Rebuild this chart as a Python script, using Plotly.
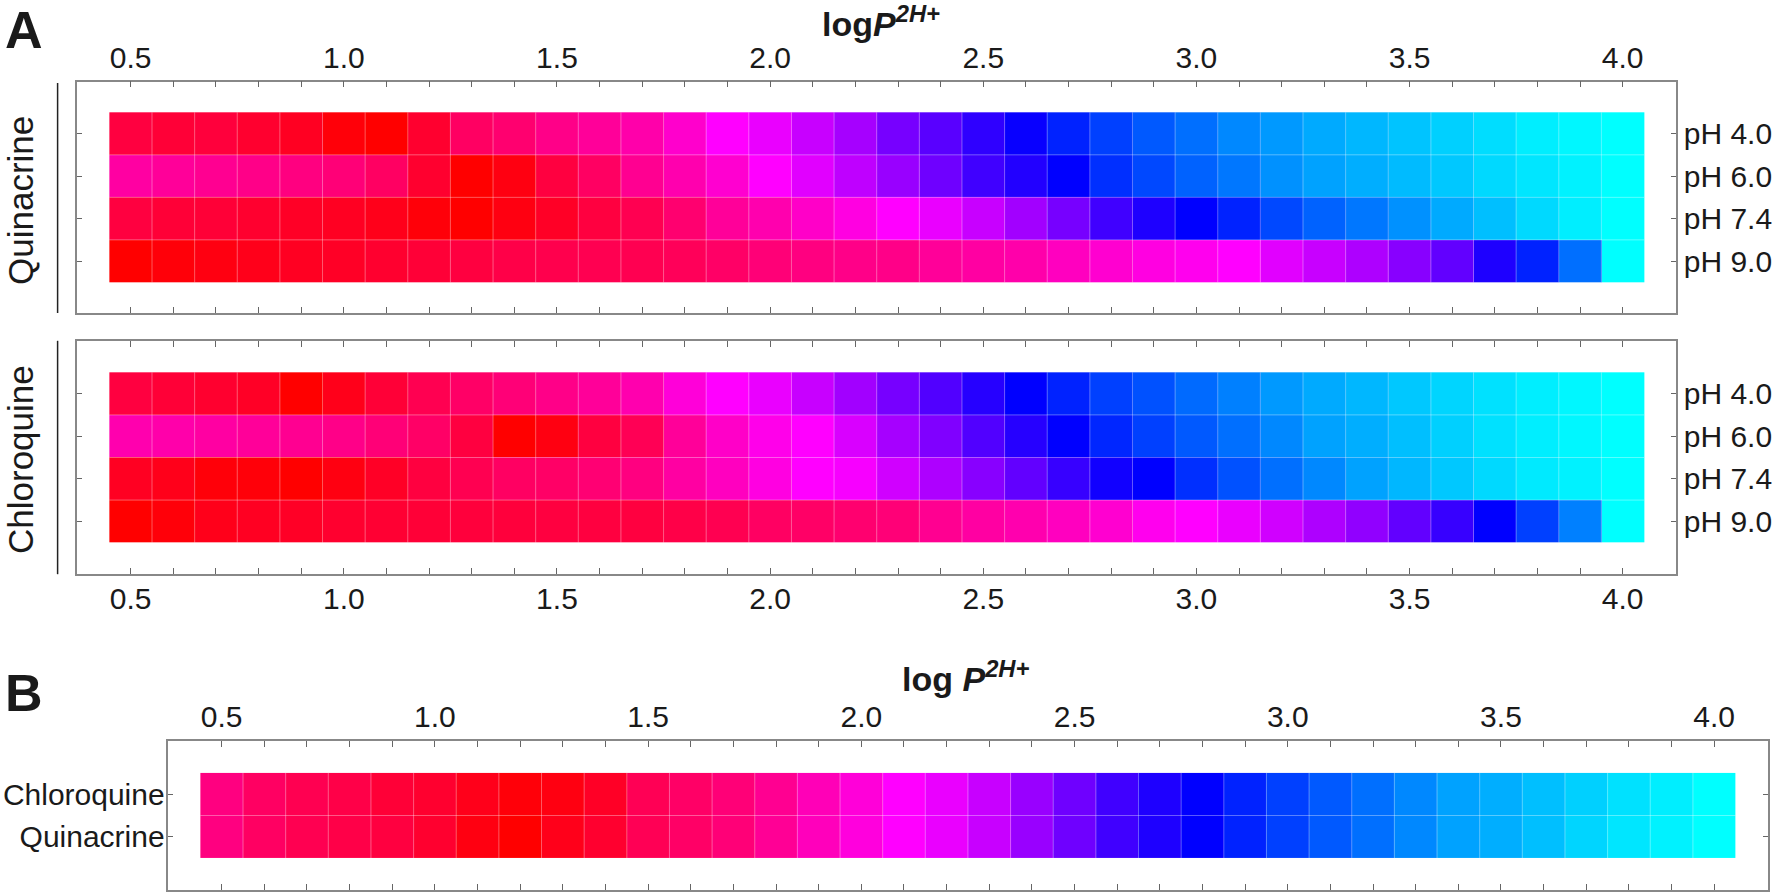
import plotly.graph_objects as go

# logP(2H+) bins
logp = [0.5, 0.6, 0.7, 0.8, 0.9, 1.0, 1.1, 1.2, 1.3, 1.4,
        1.5, 1.6, 1.7, 1.8, 1.9, 2.0, 2.1, 2.2, 2.3, 2.4,
        2.5, 2.6, 2.7, 2.8, 2.9, 3.0, 3.1, 3.2, 3.3, 3.4,
        3.5, 3.6, 3.7, 3.8, 3.9, 4.0]
ph_labels = ["pH 4.0", "pH 6.0", "pH 7.4", "pH 9.0"]
drug_labels = ["Chloroquine", "Quinacrine"]

# colour index (0 = red, 60 = magenta, 120 = blue, 180 = cyan)
quin_ph40 = [15, 13, 14, 11, 8, 2, 0, 11, 23, 26, 32, 36, 40, 48, 60, 65, 73, 81, 92, 99,
             109, 118, 128, 135, 141, 146, 152, 156, 160, 163, 166, 169, 172, 176, 178, 180]
quin_ph60 = [38, 36, 34, 32, 30, 28, 23, 11, 0, 4, 15, 23, 34, 41, 49, 60, 67, 75, 84, 94,
             105, 112, 120, 131, 137, 143, 148, 154, 158, 161, 164, 167, 171, 174, 177, 180]
quin_ph74 = [15, 13, 13, 11, 9, 8, 6, 2, 0, 4, 9, 15, 19, 26, 36, 41, 47, 53, 60, 65,
             73, 82, 92, 105, 113, 120, 128, 137, 143, 148, 154, 160, 165, 171, 176, 180]
quin_ph90 = [0, 2, 4, 6, 8, 9, 11, 13, 15, 17, 18, 19, 19, 21, 24, 28, 30, 32, 32, 36,
             38, 40, 45, 49, 53, 56, 60, 67, 73, 79, 88, 97, 113, 128, 146, 180]

chlo_ph40 = [15, 13, 11, 9, 0, 6, 13, 19, 24, 28, 32, 36, 41, 51, 60, 65, 73, 82, 92, 101,
             111, 120, 128, 135, 139, 145, 150, 156, 160, 163, 167, 170, 173, 176, 178, 180]
chlo_ph60 = [41, 40, 38, 36, 34, 32, 28, 24, 15, 0, 4, 15, 20, 36, 47, 55, 60, 69, 81, 90,
             101, 111, 120, 129, 135, 141, 146, 152, 158, 161, 165, 169, 173, 176, 178, 180]
chlo_ph74 = [8, 6, 2, 2, 0, 4, 9, 15, 19, 23, 24, 27, 30, 38, 45, 53, 60, 62, 71, 79,
             88, 97, 107, 116, 120, 131, 139, 146, 152, 158, 163, 167, 171, 175, 177, 180]
chlo_ph90 = [0, 2, 6, 8, 9, 11, 12, 13, 14, 14, 15, 15, 15, 17, 19, 23, 24, 26, 28, 34,
             38, 41, 45, 49, 56, 60, 65, 71, 79, 86, 97, 107, 120, 135, 150, 180]

b_chloroquine = [30, 23, 19, 17, 13, 11, 6, 2, 4, 9, 20, 24, 28, 34, 43, 51, 60, 65, 73, 84,
                 94, 105, 113, 120, 128, 135, 141, 146, 152, 158, 161, 165, 169, 173, 176, 180]
b_quinacrine = [30, 23, 19, 17, 15, 11, 4, 0, 6, 11, 20, 24, 28, 35, 44, 52, 60, 65, 73, 84,
                94, 105, 113, 120, 128, 135, 141, 146, 152, 158, 161, 165, 170, 174, 177, 180]

FONT = "Liberation Sans, Arial, Helvetica, sans-serif"
scale = [[0, "#ff0000"], [1 / 3, "#ff00ff"], [2 / 3, "#0000ff"], [1, "#00ffff"]]
ticktext = ["%.1f" % v if round(v * 10) % 5 == 0 else "" for v in logp]

panels = [
    ("x", "y", [quin_ph40, quin_ph60, quin_ph74, quin_ph90]),
    ("x2", "y2", [chlo_ph40, chlo_ph60, chlo_ph74, chlo_ph90]),
    ("x3", "y3", [b_chloroquine, b_quinacrine]),
]

fig = go.Figure()
shapes = []
for xa, ya, rows in panels:
    n = len(rows)
    fig.add_trace(go.Heatmap(
        x=logp, y=list(range(n)), z=rows, xaxis=xa, yaxis=ya,
        colorscale=scale, zmin=0, zmax=180, showscale=False, hoverongaps=False,
    ))
    # faint cell borders
    for k in range(1, len(logp)):
        xm = (logp[k - 1] + logp[k]) / 2
        shapes.append(dict(type="line", xref=xa, yref=ya, x0=xm, x1=xm, y0=-0.5, y1=n - 0.5,
                           line=dict(color="rgba(255,255,255,0.35)", width=1)))
    for r in range(1, n):
        shapes.append(dict(type="line", xref=xa, yref=ya, x0=logp[0] - 0.05, x1=logp[-1] + 0.05,
                           y0=r - 0.5, y1=r - 0.5,
                           line=dict(color="rgba(255,255,255,0.35)", width=1)))

W, H = 1772, 892


def xaxis(dom_px, side, anchor, standoff=0):
    return dict(domain=[dom_px[0] / W, dom_px[1] / W], range=[0.375, 4.125], side=side,
                anchor=anchor, tickvals=logp, ticktext=ticktext, ticks="inside", ticklen=6,
                tickwidth=1, tickcolor="#666", showline=True, linecolor="#888", linewidth=1.5,
                mirror="ticks", showgrid=False, zeroline=False, ticklabelstandoff=standoff,
                tickfont=dict(family=FONT, size=30, color="#1a1a1a"))


def yaxis(dom_px, side, anchor, labels, rng, standoff):
    return dict(domain=[1 - dom_px[1] / H, 1 - dom_px[0] / H], range=rng, side=side,
                anchor=anchor, tickvals=list(range(len(labels))), ticktext=labels,
                ticks="inside", ticklen=5, tickwidth=1, tickcolor="#666", showline=True,
                linecolor="#888", linewidth=1.5, mirror="ticks", showgrid=False, zeroline=False,
                ticklabelstandoff=standoff,
                tickfont=dict(family=FONT, size=30, color="#1a1a1a"))


def note(text, x, y, size, angle=0):
    return dict(text=text, x=x / W, y=1 - y / H, xref="paper", yref="paper",
                xanchor="center", yanchor="middle", textangle=angle, showarrow=False,
                font=dict(family=FONT, size=size, color="#1a1a1a"))


fig.update_layout(
    width=W, height=H, margin=dict(l=0, r=0, t=0, b=0),
    paper_bgcolor="white", plot_bgcolor="white", showlegend=False,
    xaxis=xaxis((77.4, 1676), "top", "y"),
    yaxis=yaxis((81.7, 313), "right", "x", ph_labels, [4.22, -1.22], 0),
    xaxis2=xaxis((77.4, 1676), "bottom", "y2", -3),
    yaxis2=yaxis((340.8, 574.2), "right", "x2", ph_labels, [4.24, -1.24], 0),
    xaxis3=xaxis((168.4, 1767.5), "top", "y3"),
    yaxis3=yaxis((741, 890), "left", "x3", drug_labels, [2.25, -1.25], -4),
    shapes=shapes + [
        dict(type="line", xref="paper", yref="paper", x0=57.6 / W, x1=57.6 / W,
             y0=1 - 83 / H, y1=1 - 313 / H, line=dict(color="#222", width=1.5)),
        dict(type="line", xref="paper", yref="paper", x0=57.6 / W, x1=57.6 / W,
             y0=1 - 340.8 / H, y1=1 - 574.2 / H, line=dict(color="#222", width=1.5)),
    ],
    annotations=[
        note("<b>A</b>", 24, 30, 52),
        note("<b>B</b>", 24, 693, 52),
        note("<b>log<i>P</i><sup><i>2H+</i></sup></b>", 881, 22, 34),
        note("<b>log <i>P</i><sup><i>2H+</i></sup></b>", 966, 676, 34),
        note("Quinacrine", 20, 201, 35, angle=-90),
        note("Chloroquine", 20, 460, 35, angle=-90),
    ],
)

# the page body has a default 8px margin; remove it so the figure sits at the corner
fig.write_html("out.html", config={"displayModeBar": False},
               post_script="document.body.style.margin='0px';")
